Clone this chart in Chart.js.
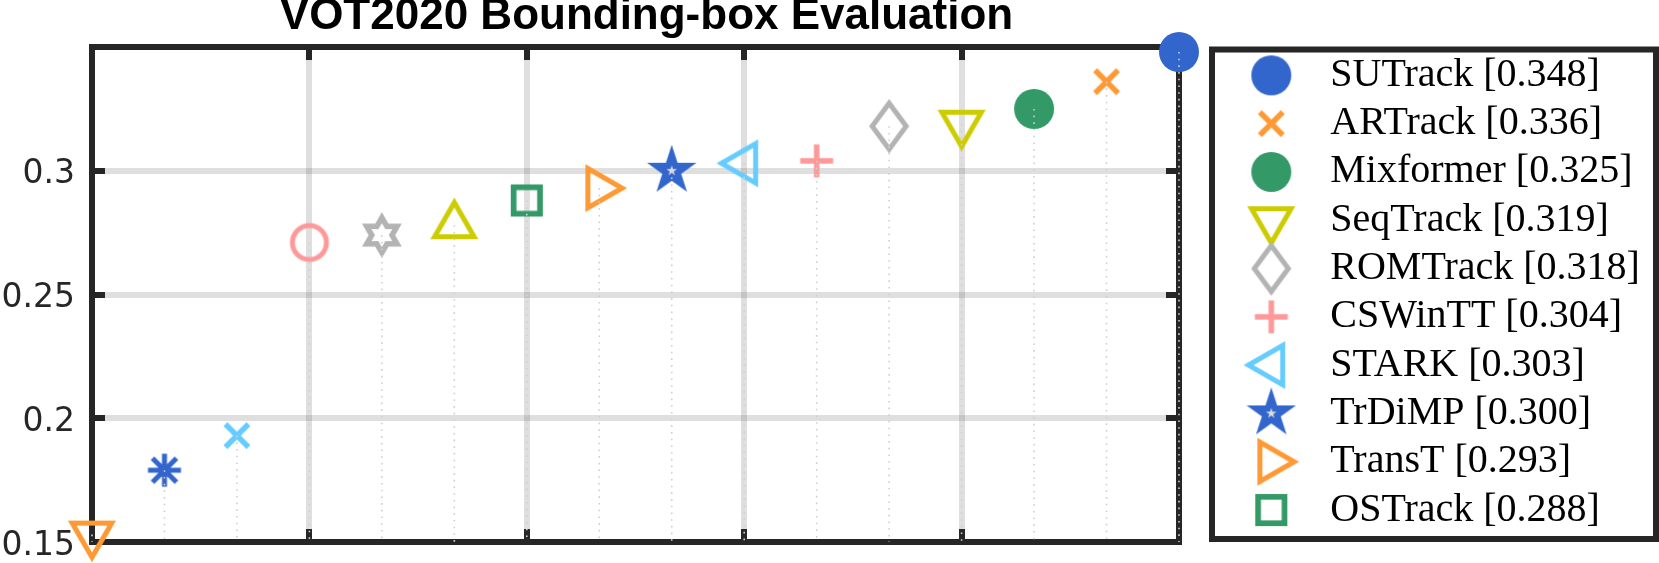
<!DOCTYPE html>
<html>
<head>
<meta charset="utf-8">
<script src="https://cdn.jsdelivr.net/npm/chart.js@4.4.1/dist/chart.umd.min.js"></script>
<style>
  html, body { margin: 0; padding: 0; background: #ffffff; }
  #wrap { width: 1659px; height: 563px; }
</style>
</head>
<body>
<div id="wrap"><canvas id="c" width="1659" height="563"></canvas></div>
<script>
// ---------------- data ----------------
const trackers = ['SUTrack', 'ARTrack', 'Mixformer', 'SeqTrack', 'ROMTrack',
                  'CSWinTT', 'STARK', 'TrDiMP', 'TransT', 'OSTrack'];
const trackerScores = [0.348, 0.336, 0.325, 0.319, 0.318, 0.304, 0.303, 0.300, 0.293, 0.288];
// trackers ranked 11-16 (not listed in the legend)
const unlabeledScores = [0.278, 0.274, 0.271, 0.193, 0.179, 0.153];
const yTicks = [0.15, 0.2, 0.25, 0.3];
const yTickLabels = ['0.15', '0.2', '0.25', '0.3'];
const xTicks = [0, 3, 6, 9, 12, 15];
const yMin = 0.15, yMax = 0.35;
const chartTitle = 'VOT2020 Bounding-box Evaluation';

// ---------------- styles ----------------
const palette = ['#3366CC', '#FF9933', '#339966', '#CCCC00', '#B3B3B3', '#FF9999', '#66CCFF'];
const shapes = ['circleFilled', 'x', 'circleFilled', 'triDown', 'diamond', 'plus', 'triLeft',
                'pentagram', 'triRight', 'square', 'triUp', 'hexagram', 'circleOpen', 'x',
                'asterisk', 'triDown'];
const AXIS = '#262626';
const LEGEND_W = 435;

function makeMarker(shape, color) {
  const c = document.createElement('canvas');
  c.width = 64; c.height = 64;
  const g = c.getContext('2d');
  g.translate(32, 32);
  g.strokeStyle = color; g.fillStyle = color;
  g.lineJoin = 'miter'; g.miterLimit = 10; g.lineCap = 'butt';
  const poly = pts => { g.beginPath(); pts.forEach((p, i) => i ? g.lineTo(p[0], p[1]) : g.moveTo(p[0], p[1])); g.closePath(); };
  const tri = ang => {
    const R = 22.8, pts = [];
    for (let k = 0; k < 3; k++) { const a = (ang + k * 120) * Math.PI / 180; pts.push([R * Math.cos(a), R * Math.sin(a)]); }
    poly(pts); g.lineWidth = 5; g.stroke();
  };
  const star = (n, ro, ri) => {
    const pts = [];
    for (let k = 0; k < 2 * n; k++) { const r = k % 2 ? ri : ro; const a = (-90 + k * 180 / n) * Math.PI / 180; pts.push([r * Math.cos(a), r * Math.sin(a)]); }
    poly(pts);
  };
  switch (shape) {
    case 'circleFilled': g.beginPath(); g.arc(0, 0, 20, 0, 2 * Math.PI); g.fill(); break;
    case 'circleOpen': g.beginPath(); g.arc(0, 0, 17, 0, 2 * Math.PI); g.lineWidth = 5; g.stroke(); break;
    case 'x': g.lineWidth = 5.5; g.beginPath(); g.moveTo(-11.5, -11.5); g.lineTo(11.5, 11.5); g.moveTo(-11.5, 11.5); g.lineTo(11.5, -11.5); g.stroke(); break;
    case 'plus': g.lineWidth = 5.5; g.beginPath(); g.moveTo(-16.5, 0); g.lineTo(16.5, 0); g.moveTo(0, -16.5); g.lineTo(0, 16.5); g.stroke(); break;
    case 'asterisk':
      g.lineWidth = 5; g.beginPath();
      g.moveTo(-16.5, 0); g.lineTo(16.5, 0); g.moveTo(0, -16.5); g.lineTo(0, 16.5);
      g.moveTo(-12, -12); g.lineTo(12, 12); g.moveTo(-12, 12); g.lineTo(12, -12);
      g.stroke(); break;
    case 'triUp': tri(-90); break;
    case 'triDown': tri(90); break;
    case 'triLeft': tri(180); break;
    case 'triRight': tri(0); break;
    case 'diamond': poly([[0, -23], [17, 0], [0, 23], [-17, 0]]); g.lineWidth = 5; g.stroke(); break;
    case 'square': g.lineWidth = 5.7; g.strokeRect(-13.2, -13.2, 26.4, 26.4); break;
    case 'pentagram':
      star(5, 26, 26 * 0.382); g.fill();
      g.fillStyle = '#dddddd'; star(5, 5.5, 5.5 * 0.382); g.fill(); break;
    case 'hexagram': star(6, 17.5, 17.5 / Math.sqrt(3)); g.lineWidth = 5.5; g.stroke(); break;
  }
  return c;
}

// ---------------- datasets ----------------
const allScores = trackerScores.concat(unlabeledScores);
const n = allScores.length;
const markerDatasets = allScores.map((v, rank) => ({
  type: 'scatter',
  label: rank < trackers.length ? trackers[rank] + ' [' + v.toFixed(3) + ']' : '',
  data: [{ x: n - 1 - rank, y: v }],
  pointStyle: makeMarker(shapes[rank], palette[rank % palette.length]),
  pointRadius: 20,
  pointHoverRadius: 20,
  order: 1,
  clip: false
}));
const stemData = [];
allScores.forEach((v, rank) => {
  const x = n - 1 - rank;
  stemData.push({ x: x, y: v }, { x: x, y: yMin }, { x: x, y: null });
});
const stemDataset = {
  type: 'line', label: '__stem', data: stemData, showLine: true,
  borderColor: '#cfcfcf', borderWidth: 1.6, borderDash: [1.6, 5.1],
  pointRadius: 0, spanGaps: false, order: 0, clip: false
};

// ---------------- plugin: inward ticks, legend frame ----------------
const framePlugin = {
  id: 'frame',
  beforeUpdate(chart) {
    const lg = chart.legend;
    if (lg && !lg.__patched) {
      const f = lg.fit;
      lg.fit = function () { f.call(this); this.width = LEGEND_W; };
      lg.__patched = true;
    }
  },
  beforeDatasetsDraw(chart) {
    const { ctx, chartArea: a, scales: { x, y } } = chart;
    ctx.save();
    ctx.fillStyle = AXIS;
    xTicks.filter(v => v > x.min && v < x.max).forEach(v => {
      const px = Math.round(x.getPixelForValue(v));
      ctx.fillRect(px - 3, a.top, 6, 13);
      ctx.fillRect(px - 3, a.bottom - 13, 6, 13);
    });
    yTicks.filter(v => v > y.min && v < y.max).forEach(v => {
      const py = Math.round(y.getPixelForValue(v));
      ctx.fillRect(a.left, py - 3, 13, 6);
      ctx.fillRect(a.right - 13, py - 3, 13, 6);
    });
    ctx.restore();
  },
  afterDraw(chart) {
    const lg = chart.legend;
    if (!lg) return;
    const ctx = chart.ctx;
    ctx.save();
    ctx.strokeStyle = AXIS; ctx.lineWidth = 6;
    const l = lg.left - 12, t = lg.top + 2.5, r = chart.width - 3, b = lg.bottom - 3;
    ctx.strokeRect(l, t, r - l, b - t);
    ctx.restore();
  }
};

Chart.defaults.font.family = 'Liberation Sans';
Chart.defaults.color = AXIS;

new Chart(document.getElementById('c'), {
  type: 'scatter',
  data: { datasets: markerDatasets.concat([stemDataset]) },
  options: {
    responsive: false,
    animation: false,
    events: [],
    layout: { padding: { left: 0, right: 0, top: 0, bottom: 20 } },
    scales: {
      x: {
        type: 'linear', position: 'bottom', min: 0, max: n - 1,
        afterBuildTicks: s => { s.ticks = xTicks.map(v => ({ value: v })); },
        ticks: { display: false },
        grid: { color: 'rgba(38,38,38,0.15)', lineWidth: 6, drawTicks: false },
        border: { display: true, color: AXIS, width: 6 },
        afterFit: s => { s.height = 0; s.paddingLeft = 0; s.paddingRight = 0; }
      },
      x2: {
        type: 'linear', position: 'top', min: 0, max: n - 1,
        ticks: { display: false },
        grid: { display: false, drawTicks: false },
        border: { display: true, color: AXIS, width: 6 },
        afterFit: s => { s.height = 0; s.paddingLeft = 0; s.paddingRight = 0; }
      },
      y: {
        type: 'linear', position: 'left', min: yMin, max: yMax,
        afterBuildTicks: s => { s.ticks = yTicks.map(v => ({ value: v })); },
        ticks: {
          callback: (v, i) => yTickLabels[i],
          font: { family: 'DejaVu Sans', size: 33, lineHeight: 1 },
          color: AXIS, padding: 17, labelOffset: 4
        },
        grid: { color: 'rgba(38,38,38,0.15)', lineWidth: 6, drawTicks: false },
        border: { display: true, color: AXIS, width: 6 },
        afterFit: s => { s.width = 92; s.paddingTop = 0; s.paddingBottom = 0; }
      },
      y2: {
        type: 'linear', position: 'right', min: yMin, max: yMax,
        ticks: { display: false },
        grid: { display: false, drawTicks: false },
        border: { display: true, color: AXIS, width: 6 },
        afterFit: s => { s.width = 45; s.paddingTop = 0; s.paddingBottom = 0; }
      }
    },
    plugins: {
      tooltip: { enabled: false },
      title: {
        display: true,
        fullSize: false,
        text: '\u2002' + chartTitle,
        color: '#000000',
        font: { family: 'Liberation Sans', weight: 'bold', size: 44, lineHeight: 0.764 },
        padding: { top: 0, bottom: 13.4 }
      },
      legend: {
        display: true,
        fullSize: false,
        position: 'right',
        align: 'start',
        labels: {
          usePointStyle: true,
          pointStyleWidth: 78,
          boxHeight: 40,
          padding: 8.3,
          color: '#000000',
          font: { family: 'Liberation Serif', size: 40, lineHeight: 1 },
          filter: item => item.text !== '' && item.text !== '__stem'
        }
      }
    }
  },
  plugins: [framePlugin]
});
</script>
</body>
</html>
